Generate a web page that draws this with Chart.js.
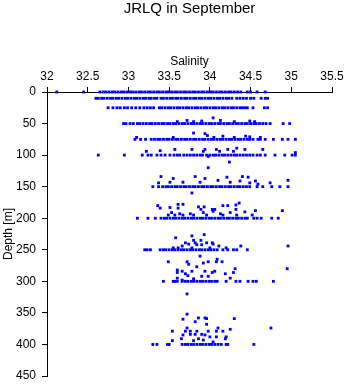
<!DOCTYPE html>
<html lang="en">
<head>
  <meta charset="UTF-8">
  <title>JRLQ in September</title>
  <style>
    body, html {
      margin: 0;
      background-color: #ffffff;
    }
    #wrap {
      width: 346px;
      height: 384px;
    }
  </style>
</head>
<body>
  <div id="wrap">
    <canvas id="salChart" width="346" height="384"></canvas>
  </div>

  <script src="https://cdn.jsdelivr.net/npm/chart.js"></script>
  <script>
    // salinity readings per sampling depth (m)
    const sal0 = [32.12, 32.45, 32.65, 32.69, 32.72, 32.76, 32.80, 32.83, 32.87, 32.91, 32.94, 32.98, 33.02, 33.05, 33.09, 33.13, 33.16, 33.20, 33.24, 33.27, 33.31, 33.35, 33.38, 33.42, 33.46, 33.49, 33.53, 33.57, 33.60, 33.64, 33.68, 33.71, 33.75, 33.79, 33.82, 33.86, 33.90, 33.93, 33.97, 34.01, 34.04, 34.08, 34.12, 34.15, 34.19, 34.23, 34.26, 34.30, 34.34, 34.38, 34.46, 34.50, 34.58, 34.68];
    const sal10 = [32.60, 32.63, 32.67, 32.70, 32.74, 32.78, 32.81, 32.85, 32.88, 32.92, 32.96, 32.99, 33.03, 33.07, 33.10, 33.14, 33.18, 33.21, 33.25, 33.28, 33.32, 33.35, 33.40, 33.43, 33.47, 33.51, 33.54, 33.58, 33.61, 33.65, 33.69, 33.72, 33.76, 33.80, 33.83, 33.87, 33.90, 33.94, 33.98, 34.01, 34.05, 34.09, 34.12, 34.16, 34.20, 34.23, 34.27, 34.33, 34.37, 34.41, 34.45, 34.50, 34.54, 34.63, 34.68, 34.71];
    const sal25 = [32.75, 32.81, 32.86, 32.90, 32.95, 32.99, 33.04, 33.09, 33.14, 33.19, 33.23, 33.27, 33.31, 33.38, 33.41, 33.45, 33.49, 33.52, 33.56, 33.60, 33.63, 33.67, 33.71, 33.74, 33.78, 33.82, 33.85, 33.89, 33.93, 33.96, 34.00, 34.04, 34.07, 34.11, 34.15, 34.18, 34.22, 34.26, 34.29, 34.33, 34.37, 34.40, 34.43, 34.46, 34.53, 34.67, 34.71];
    const sal50 = [32.94, 32.97, 33.02, 33.06, 33.11, 33.14, 33.18, 33.22, 33.26, 33.29, 33.33, 33.37, 33.41, 33.44, 33.48, 33.51, 33.55, 33.58, 33.62, 33.66, 33.69, 33.73, 33.77, 33.80, 33.84, 33.88, 33.91, 33.95, 33.99, 34.02, 34.06, 34.10, 34.13, 34.17, 34.21, 34.24, 34.28, 34.32, 34.35, 34.39, 34.43, 34.46, 34.50, 34.54, 34.57, 34.61, 34.65, 34.69, 34.74, 34.90, 34.98];
    const sal75 = [33.08, 33.15, 33.21, 33.28, 33.32, 33.36, 33.39, 33.43, 33.47, 33.50, 33.54, 33.58, 33.61, 33.65, 33.69, 33.72, 33.76, 33.80, 33.83, 33.87, 33.91, 33.94, 33.98, 34.02, 34.05, 34.09, 34.13, 34.16, 34.20, 34.24, 34.27, 34.31, 34.35, 34.38, 34.42, 34.46, 34.49, 34.53, 34.59, 34.62, 34.68, 34.78, 34.89, 34.96, 35.05];
    const sal100 = [32.63, 32.95, 33.17, 33.24, 33.28, 33.35, 33.40, 33.45, 33.51, 33.56, 33.60, 33.63, 33.68, 33.72, 33.76, 33.80, 33.84, 33.88, 33.91, 33.96, 34.00, 34.04, 34.07, 34.11, 34.15, 34.18, 34.22, 34.26, 34.30, 34.33, 34.37, 34.41, 34.45, 34.49, 34.53, 34.58, 34.62, 34.68, 34.80, 34.92, 35.01, 35.05];
    const sal150 = [33.30, 33.37, 33.42, 33.46, 33.49, 33.53, 33.57, 33.60, 33.64, 33.68, 33.71, 33.75, 33.79, 33.82, 33.86, 33.90, 33.93, 33.97, 34.01, 34.04, 34.08, 34.12, 34.15, 34.19, 34.23, 34.26, 34.30, 34.34, 34.37, 34.41, 34.45, 34.49, 34.58, 34.65, 34.76, 34.86, 34.96];
    const sal200 = [33.11, 33.24, 33.33, 33.40, 33.44, 33.47, 33.51, 33.55, 33.58, 33.62, 33.66, 33.69, 33.73, 33.77, 33.80, 33.84, 33.88, 33.91, 33.95, 33.99, 34.02, 34.06, 34.10, 34.13, 34.17, 34.21, 34.24, 34.28, 34.32, 34.35, 34.39, 34.43, 34.46, 34.54, 34.58, 34.63, 34.76, 34.84];
    const sal250 = [33.20, 33.23, 33.27, 33.39, 33.43, 33.46, 33.50, 33.54, 33.57, 33.61, 33.65, 33.68, 33.72, 33.76, 33.79, 33.83, 33.87, 33.90, 33.94, 33.98, 34.01, 34.05, 34.09, 34.16, 34.22, 34.29, 34.33, 34.46];
    const sal300 = [33.43, 33.55, 33.57, 33.60, 33.66, 33.70, 33.73, 33.77, 33.80, 33.84, 33.88, 33.91, 33.95, 33.99, 34.02, 34.06, 34.09, 34.20, 34.32, 34.37, 34.47, 34.53, 34.57, 34.78];
    const sal400 = [33.30, 33.35, 33.48, 33.50, 33.66, 33.70, 33.73, 33.77, 33.80, 33.84, 33.88, 33.91, 33.95, 33.99, 34.02, 34.06, 34.10, 34.14, 34.20, 34.22, 34.54];

    const levelDepths = [0, 10, 25, 50, 75, 100, 150, 200, 250, 300, 400];
    const levelSal = [sal0, sal10, sal25, sal50, sal75, sal100, sal150, sal200, sal250, sal300, sal400];

    // off-level readings (salinity, depth)
    const extraSal = [
      34.04, 33.72, 33.90, 34.13, 34.49, 33.60, 33.80, 34.30, 34.55,
      33.10, 33.80, 33.94, 33.97, 34.16, 34.49, 34.62, 34.05, 34.30, 34.44, 33.55,
      33.22, 33.39, 33.57, 33.78, 33.92, 33.94, 34.08, 34.12, 34.22, 34.29, 34.33, 34.43, 34.65, 35.05, 33.98,
      34.24, 33.98,
      33.37, 33.51, 33.40, 33.55, 33.82, 33.94, 33.67, 33.88, 34.10, 34.21, 34.25, 34.37, 34.40, 34.47, 34.49, 34.56, 34.59, 34.74, 34.96, 33.78,
      33.36, 33.39, 33.51, 33.61, 33.67, 33.61, 33.86, 33.93, 33.89, 34.03, 34.06, 34.16, 34.22, 34.32, 34.36, 34.32, 34.56, 34.89,
      33.53, 33.63, 33.76, 33.92, 34.04, 34.13, 34.25, 34.43, 34.52, 33.49, 33.57, 33.67, 33.80, 33.96, 34.16, 34.33,
      33.58, 33.78, 33.93, 33.80, 33.89, 33.70, 33.82, 33.96, 34.03, 33.74, 33.84, 33.66, 33.90, 34.04, 34.11, 33.55, 33.61, 33.78, 34.00, 34.20, 34.38, 34.96,
      33.88, 33.49, 33.72, 33.74, 33.92, 33.98, 34.09, 34.08, 34.15, 33.84, 33.60, 34.31, 34.95, 33.60, 33.66, 33.78, 33.94, 34.03, 34.06, 34.19, 34.29, 33.73, 33.90, 33.98, 34.25, 33.60, 33.66, 33.80, 33.70,
      33.72, 33.72,
      33.67, 33.86, 33.94, 33.96, 34.30, 33.82, 33.96, 33.72, 34.10, 34.75, 34.25, 33.54, 33.70, 33.76, 33.84, 33.98, 34.08, 34.16,
      33.67, 33.76, 33.82, 33.90, 33.94, 34.00, 34.08, 34.20, 33.65, 33.86, 33.92, 34.19, 33.54, 33.80, 34.04
    ];
    const extraDepth = [
      41, 45, 46, 45, 46, 47, 47, 47, 47,
      72, 65, 66, 69, 70, 71, 72, 72, 72, 70, 72,
      94, 93, 91, 91, 94, 91, 91, 94, 91, 94, 89, 91, 91, 96, 102,
      111, 120,
      144, 143, 134, 137, 134, 137, 143, 143, 140, 135, 143, 141, 134, 135, 144, 141, 146, 144, 140, 160,
      180, 184, 183, 178, 178, 184, 182, 182, 186, 186, 186, 180, 180, 179, 176, 186, 188, 188,
      191, 193, 193, 191, 189, 193, 191, 190, 195, 195, 195, 195, 195, 195, 195, 195,
      231, 228, 226, 235, 235, 239, 239, 239, 239, 241, 242, 244, 242, 241, 244, 247, 247, 247, 247, 247, 244, 244,
      260, 269, 269, 273, 271, 269, 265, 269, 269, 277, 282, 280, 280, 286, 284, 284, 284, 286, 284, 288, 286, 291, 292, 292, 295, 295, 298, 296, 288,
      320, 352,
      360, 358, 358, 359, 359, 364, 368, 374, 374, 374, 376, 379, 379, 379, 379, 379, 379, 379,
      385, 384, 384, 384, 385, 388, 388, 388, 391, 391, 393, 391, 394, 394, 396
    ];

    const xTicks = [32, 32.5, 33, 33.5, 34, 34.5, 35, 35.5];
    const yTicks = [0, 50, 100, 150, 200, 250, 300, 350, 400, 450];

    const points = [];
    levelDepths.forEach((d, i) => {
      levelSal[i].forEach(s => points.push({ x: s, y: d }));
    });
    extraSal.forEach((s, i) => points.push({ x: s, y: extraDepth[i] }));

    const font = 'Liberation Sans, Arial, Helvetica, sans-serif';

    new Chart(document.getElementById('salChart'), {
      type: 'scatter',
      data: {
        datasets: [{
          data: points,
          backgroundColor: '#0000ff',
          borderWidth: 0,
          pointStyle: 'rect',
          pointRadius: 2,
          clip: false
        }]
      },
      options: {
        responsive: false,
        animation: false,
        devicePixelRatio: 1,
        layout: { padding: { left: 0, right: 14, top: 0, bottom: 8 } },
        plugins: {
          legend: { display: false },
          tooltip: { enabled: false },
          title: {
            display: true,
            text: 'JRLQ in September',
            fullSize: false,
            color: '#000',
            font: { family: font, size: 15, weight: 'normal' },
            padding: { top: 0, bottom: 0 }
          }
        },
        scales: {
          x: {
            type: 'linear',
            position: 'top',
            min: xTicks[0],
            max: xTicks[xTicks.length - 1],
            afterBuildTicks: s => { s.ticks = xTicks.map(v => ({ value: v })); },
            afterFit: s => {
              s.height = 74;
              s.paddingLeft = 0;
              s.paddingRight = 0;
            },
            ticks: {
              color: '#000',
              font: { family: font, size: 12 },
              padding: 3,
              maxRotation: 0,
              callback: v => String(v)
            },
            grid: { drawOnChartArea: false, drawTicks: true, tickLength: 5, color: '#000' },
            border: { display: true, color: '#000' },
            title: {
              display: true,
              text: 'Salinity',
              color: '#000',
              font: { family: font, size: 12 },
              padding: { top: 36, bottom: 0 }
            }
          },
          y: {
            type: 'linear',
            reverse: true,
            min: yTicks[0],
            max: yTicks[yTicks.length - 1],
            afterBuildTicks: s => { s.ticks = yTicks.map(v => ({ value: v })); },
            afterFit: s => {
              s.width = 47;
              s.paddingTop = 0;
              s.paddingBottom = 0;
            },
            ticks: {
              color: '#000',
              font: { family: font, size: 12 },
              padding: 6,
              callback: v => String(v)
            },
            grid: { drawOnChartArea: false, drawTicks: true, tickLength: 5, color: '#000' },
            border: { display: true, color: '#000' },
            title: {
              display: true,
              text: 'Depth [m]',
              color: '#000',
              font: { family: font, size: 12 },
              padding: { top: 1, bottom: 0 }
            }
          }
        }
      }
    });
  </script>
</body>
</html>
